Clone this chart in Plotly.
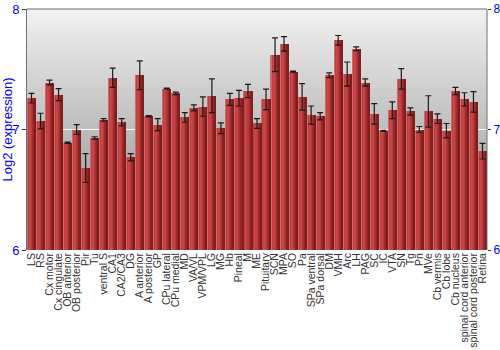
import plotly.graph_objects as go

categories = ["LS", "RS", "Cx motor", "Cx cingulate", "OB anterior", "OB posterior", "Pir", "Tu",
              "ventral S", "CA1", "CA2/CA3", "DG", "A anterior", "A posterior", "GP", "CPu lateral",
              "CPu medial", "MD", "VA/VL", "VPM/VPL", "LG", "MG", "Hb", "Pineal", "M", "ME",
              "Pituitary", "SCN", "MPA", "SO", "Pa", "SPa ventral", "SPa dorsal", "DM", "VMH", "Arc",
              "LH", "PAG", "SC", "IC", "VTA", "SN", "Tg", "Pn", "MVe", "Cb vermis", "Cb lobe",
              "Cb nucleus", "spinal cord anterior", "spinal cord posterior", "Retina"]

values = [7.26, 7.07, 7.39, 7.29, 6.89, 7.00, 6.68, 6.93,
          7.08, 7.43, 7.06, 6.77, 7.45, 7.11, 7.04, 7.34,
          7.30, 7.10, 7.18, 7.19, 7.28, 7.01, 7.25, 7.26, 7.32, 7.05,
          7.25, 7.62, 7.71, 7.48, 7.27, 7.12, 7.11, 7.45, 7.74, 7.46,
          7.67, 7.39, 7.13, 6.99, 7.16, 7.42, 7.15, 7.00, 7.15, 7.09, 6.99,
          7.32, 7.25, 7.23, 6.82]

errors = [0.04, 0.065, 0.02, 0.05, 0.005, 0.04, 0.12, 0.01,
          0.01, 0.08, 0.03, 0.03, 0.12, 0.005, 0.05, 0.004,
          0.01, 0.04, 0.025, 0.08, 0.14, 0.045, 0.05, 0.065, 0.055, 0.04,
          0.085, 0.14, 0.06, 0.005, 0.11, 0.075, 0.03, 0.02, 0.04, 0.10,
          0.015, 0.03, 0.085, 0.003, 0.07, 0.085, 0.03, 0.025, 0.13, 0.04, 0.06,
          0.03, 0.055, 0.085, 0.065]

y_ticks = [6, 7, 8]
y_range = [6, 8]

xpos = list(range(len(categories)))

fig = go.Figure()

# cylinder-like shading made from overlaid strips
strip_colors = ['#d06a6a', '#bd4040', '#c64848', '#c24444', '#b63a3a', '#a52e2e', '#942424', '#821d1d']
total_w = 0.9
n = len(strip_colors)
sw = total_w / n
for i, c in enumerate(strip_colors):
    fig.add_trace(go.Bar(
        x=xpos, y=values, width=sw * 1.05, offset=-total_w / 2 + i * sw,
        marker=dict(color=c, line=dict(width=0)),
        hoverinfo='skip', showlegend=False))

fig.add_trace(go.Scatter(
    x=xpos, y=values, mode='markers',
    marker=dict(size=1, opacity=0),
    error_y=dict(type='data', array=errors, visible=True, color='#1a1a1a', thickness=1.2, width=3),
    showlegend=False))

# invisible trace to activate right axis
fig.add_trace(go.Scatter(x=[xpos[0]], y=[values[0]], yaxis='y2', mode='markers',
                         marker=dict(opacity=0), showlegend=False, hoverinfo='skip'))

# background gradient bands
def lerp(a, b, t):
    return int(round(a + (b - a) * t))
top = (242, 242, 242)
bot = (135, 135, 135)
nb = 60
shapes = []
for k in range(nb):
    t = (k + 0.5) / nb
    col = tuple(lerp(top[j], bot[j], t) for j in range(3))
    c = 'rgb(%d,%d,%d)' % col
    shapes.append(dict(type='rect', xref='x domain', yref='y domain',
                       x0=0, x1=1, y0=max(0, 1 - (k + 1.6) / nb), y1=1 - k / nb,
                       fillcolor=c, line=dict(width=0), layer='below'))
shapes.append(dict(type='line', xref='x domain', yref='y domain', x0=0, x1=1, y0=1, y1=1,
                   line=dict(color='#707070', width=1), layer='above'))
shapes.append(dict(type='line', xref='x domain', yref='y domain', x0=1, x1=1, y0=0, y1=1,
                   line=dict(color='#707070', width=1), layer='above'))

fig.update_layout(
    width=500, height=350,
    margin=dict(l=27, r=13, t=9, b=100),
    paper_bgcolor='white', plot_bgcolor='rgba(0,0,0,0)',
    barmode='overlay', bargap=0,
    shapes=shapes,
    font=dict(family='Liberation Sans, Arial, sans-serif'),
    xaxis=dict(range=[-0.5, len(categories) - 0.5], tickmode='array', tickvals=xpos,
               ticktext=categories, tickangle=-90, showgrid=False, zeroline=False,
               showline=False, ticks='', tickfont=dict(size=10.5, color='#333333'),
               automargin=False),
    yaxis=dict(range=y_range, tickvals=y_ticks, showgrid=True, gridcolor='white', gridwidth=1,
               zeroline=False, showline=True, linecolor='#707070', linewidth=1,
               ticks='outside', ticklen=4, tickcolor='#333333',
               tickfont=dict(size=13, color='blue'), automargin=False,
               title=dict(text='Log2 (expression)', font=dict(size=13, color='blue'), standoff=4)),
    yaxis2=dict(range=y_range, tickvals=y_ticks, overlaying='y', side='right', showgrid=False,
                zeroline=False, showline=False, ticks='outside', ticklen=3, tickcolor='#333333',
                tickfont=dict(size=12, color='blue'), automargin=False),
)

fig.write_html("out.html")
